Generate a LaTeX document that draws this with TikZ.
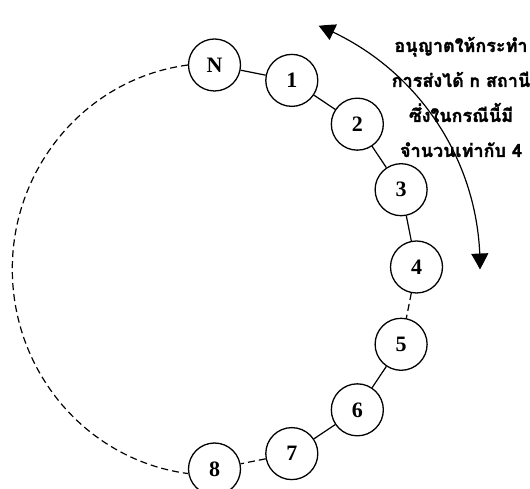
\documentclass[tikz,border=0pt]{standalone}
\usepackage{fontspec}
\setmainfont{Liberation Serif}
\newfontfamily\thaifont[Script=Thai,FakeBold=1.5]{Loma}
\usetikzlibrary{arrows.meta,bending}
\begin{document}
\begin{tikzpicture}[x=1pt,y=1pt,
  station/.style={circle,draw,line width=1.3pt,minimum size=52pt,inner sep=0pt,
    font=\fontsize{22}{22}\selectfont\bfseries},
  link/.style={line width=1.2pt},
  dlink/.style={line width=1.2pt,dash pattern=on 7pt off 4pt},
  note/.style={align=center,font=\thaifont\bfseries\fontsize{18}{35}\selectfont}]
\useasboundingbox (0,0) rectangle (530,489);
\coordinate (C) at (214.5,222);
\node[station] (sN) at ([shift={(90:202)}]C) {N};
\foreach \k in {1,...,8}{
  \node[station] (s\k) at ([shift={({90-22.5*\k}:202)}]C) {\k};
}
\draw[link] (sN) -- (s1);
\draw[link] (s1) -- (s2);
\draw[link] (s2) -- (s3);
\draw[link] (s3) -- (s4);
\draw[dlink] (s4) -- (s5);
\draw[link] (s5) -- (s6);
\draw[link] (s6) -- (s7);
\draw[dlink] (s7) -- (s8);
\draw[dlink] (sN.west) arc[x radius=201.5,y radius=206,start angle=97.4,end angle=262.6];
\coordinate (AC) at (222,224);
\coordinate (atop) at ([shift={(68:258)}]AC);
\draw[line width=1.2pt,{Triangle[length=16pt,width=17pt,bend]}-{Triangle[length=16pt,width=17pt,bend]}]
  (atop) arc[radius=258,start angle=68,end angle=-1];
\node[note] (txt) at (461,392) {อนุญาตให้กระทำ\\การส่งได้ n สถานี\\ซึ่งในกรณีนี้มี\\จำนวนเท่ากับ 4};
\end{tikzpicture}
\end{document}
